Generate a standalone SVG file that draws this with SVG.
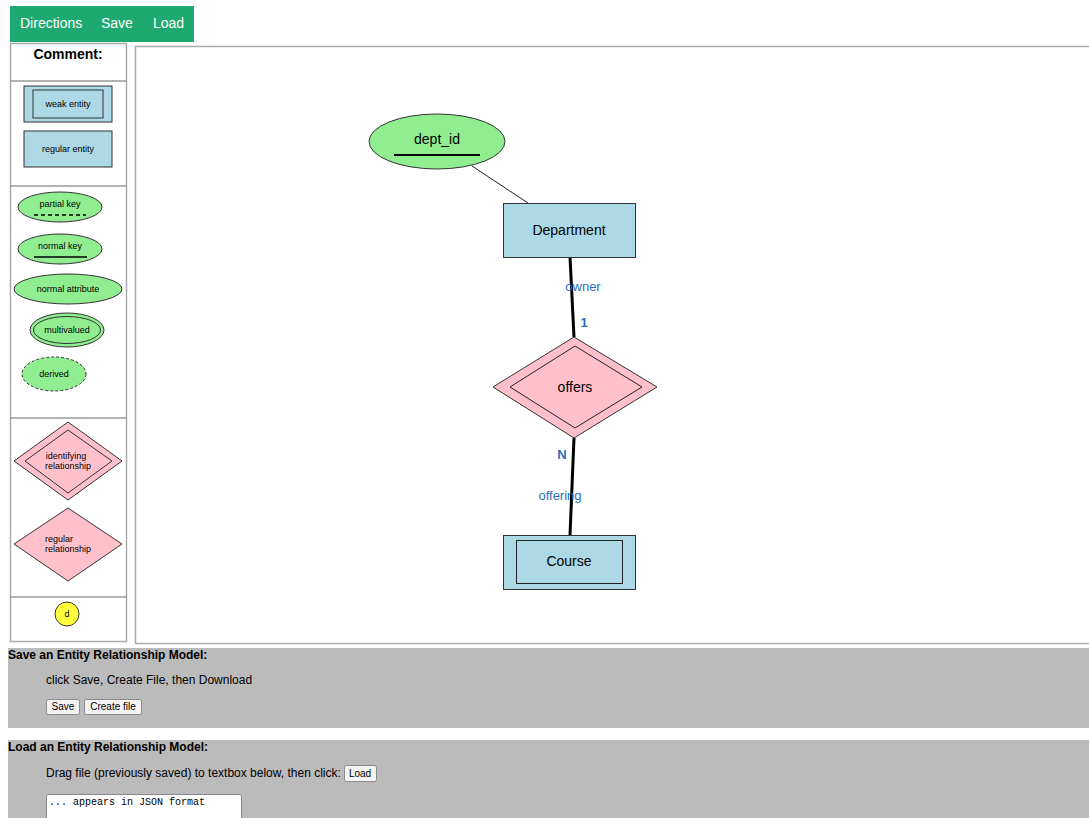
<svg xmlns="http://www.w3.org/2000/svg" width="1089" height="818" viewBox="0 0 1089 818">
<style>
  text { font-family: "Liberation Sans", Arial, sans-serif; fill: #000; }
  text.mono { font-family: "Liberation Mono", "Courier New", monospace; font-size: 10px; }
  .menu { fill: #fff; font-size: 14px; }
  .pal { font-size: 9px; text-anchor: middle; }
  .lbl { font-size: 14px; text-anchor: middle; }
  .role { font-size: 13px; fill: #2a6fbf; text-anchor: middle; }
  .card { font-size: 13px; fill: #2a6fbf; font-weight: bold; text-anchor: middle; }
  .ent { fill: #add8e6; stroke: #333; stroke-width: 1; }
  .attr { fill: #90ee90; stroke: #333; stroke-width: 1; }
  .rel { fill: #ffc0cb; stroke: #333; stroke-width: 1; }
  .panel { fill: #bbbbbb; }
  .btn { fill: #f4f4f4; stroke: #8a8a8a; stroke-width: 1; }
  .btxt { font-size: 10px; text-anchor: middle; }
  .sep { stroke: #999; stroke-width: 1.5; }
</style>
<rect width="1089" height="818" fill="#fff"/>

<!-- top menu bar -->
<g id="menu">
  <rect x="10" y="6" width="184" height="36" fill="#1ea971"/>
  <text class="menu" x="20" y="28">Directions</text>
  <text class="menu" x="101" y="28">Save</text>
  <text class="menu" x="153" y="28">Load</text>
</g>

<!-- shape palette -->
<g id="palette">
  <rect x="10.5" y="43.5" width="116" height="598" fill="#fff" stroke="#aaa" stroke-width="1.5"/>
  <line class="sep" x1="10" y1="81" x2="127" y2="81"/>
  <line class="sep" x1="10" y1="186" x2="127" y2="186"/>
  <line class="sep" x1="10" y1="418" x2="127" y2="418"/>
  <line class="sep" x1="10" y1="597" x2="127" y2="597"/>
  <text x="68" y="59" font-size="14" font-weight="bold" text-anchor="middle">Comment:</text>

  <g id="pal-weak-entity">
    <rect class="ent" x="24" y="86" width="88" height="36"/>
    <rect x="33" y="90" width="70" height="28" fill="none" stroke="#333"/>
    <text class="pal" x="68" y="107">weak entity</text>
  </g>
  <g id="pal-regular-entity">
    <rect class="ent" x="24" y="131" width="88" height="36"/>
    <text class="pal" x="68" y="152">regular entity</text>
  </g>
  <g id="pal-partial-key">
    <ellipse class="attr" cx="60" cy="207" rx="42" ry="15"/>
    <text class="pal" x="60" y="207">partial key</text>
    <line x1="34" y1="215" x2="86" y2="215" stroke="#000" stroke-width="1.3" stroke-dasharray="4,3"/>
  </g>
  <g id="pal-normal-key">
    <ellipse class="attr" cx="60" cy="249" rx="42" ry="15"/>
    <text class="pal" x="60" y="249">normal key</text>
    <line x1="34" y1="257" x2="87" y2="257" stroke="#000" stroke-width="1.5"/>
  </g>
  <g id="pal-normal-attribute">
    <ellipse class="attr" cx="68" cy="289" rx="54" ry="15"/>
    <text class="pal" x="68" y="292">normal attribute</text>
  </g>
  <g id="pal-multivalued">
    <ellipse class="attr" cx="67" cy="330" rx="37" ry="17"/>
    <ellipse cx="67" cy="330" rx="33.5" ry="13.5" fill="none" stroke="#333"/>
    <text class="pal" x="67" y="333">multivalued</text>
  </g>
  <g id="pal-derived">
    <ellipse class="attr" cx="54" cy="374" rx="32" ry="17" stroke-dasharray="3,2"/>
    <text class="pal" x="54" y="377">derived</text>
  </g>
  <g id="pal-identifying-relationship">
    <polygon class="rel" points="68,422 122,461 68,500 14,461"/>
    <polygon points="68,430 112,461 68,493 25,461" fill="none" stroke="#333"/>
    <text class="pal" x="66" y="459">identifying</text>
    <text class="pal" x="68" y="469">relationship</text>
  </g>
  <g id="pal-regular-relationship">
    <polygon class="rel" points="68,508 122,544 68,581 14,544"/>
    <text class="pal" x="59" y="542">regular</text>
    <text class="pal" x="68" y="552">relationship</text>
  </g>
  <g id="pal-disjoint">
    <circle cx="67" cy="614" r="12" fill="#ffff3c" stroke="#333"/>
    <text class="pal" x="67" y="617">d</text>
  </g>
</g>

<!-- drawing area -->
<rect x="135.5" y="46.5" width="960" height="597" fill="#fff" stroke="#aaa" stroke-width="1.5"/>

<g id="connectors">
  <line x1="472" y1="166" x2="528" y2="203" stroke="#222" stroke-width="1"/>
  <line x1="570" y1="257" x2="574" y2="337" stroke="#000" stroke-width="3"/>
  <line x1="574" y1="438" x2="570" y2="535" stroke="#000" stroke-width="3"/>
  <text class="role" x="583" y="291">owner</text>
  <text class="card" x="584" y="327">1</text>
  <text class="card" x="562" y="459">N</text>
  <text class="role" x="560" y="500">offering</text>
</g>

<g id="dept_id">
  <ellipse class="attr" cx="437" cy="141.5" rx="68" ry="27.5"/>
  <text class="lbl" x="437" y="144">dept_id</text>
  <line x1="394" y1="155" x2="480" y2="155" stroke="#000" stroke-width="2"/>
</g>

<g id="Department">
  <rect class="ent" x="503.5" y="203.5" width="132" height="54"/>
  <text class="lbl" x="569" y="235">Department</text>
</g>

<g id="offers">
  <polygon class="rel" points="574,337 657,387 574,438 493,387"/>
  <polygon points="575,346 642,387 575,428 510,387" fill="none" stroke="#222"/>
  <text class="lbl" x="575" y="392">offers</text>
</g>

<g id="Course">
  <rect class="ent" x="503.5" y="535.5" width="132" height="54"/>
  <rect x="516.5" y="540.5" width="106" height="43" fill="none" stroke="#222"/>
  <text class="lbl" x="569" y="566">Course</text>
</g>

<!-- save / load panels -->
<g id="save-panel">
  <rect class="panel" x="8" y="648" width="1081" height="80"/>
  <text x="8" y="659" font-size="12" font-weight="bold">Save an Entity Relationship Model:</text>
  <text x="46" y="684" font-size="12">click Save, Create File, then Download</text>
  <rect class="btn" x="46.5" y="699.5" width="33" height="15" rx="2"/>
  <text class="btxt" x="63" y="710">Save</text>
  <rect class="btn" x="84.5" y="699.5" width="57" height="15" rx="2"/>
  <text class="btxt" x="113" y="710">Create file</text>
</g>
<g id="load-panel">
  <rect class="panel" x="8" y="740" width="1081" height="78"/>
  <text x="8" y="751" font-size="12" font-weight="bold">Load an Entity Relationship Model:</text>
  <text x="46" y="777" font-size="12">Drag file (previously saved) to textbox below, then click:</text>
  <rect class="btn" x="344.5" y="765.5" width="32" height="16" rx="2"/>
  <text class="btxt" x="360" y="777">Load</text>
  <rect x="46.5" y="794.5" width="195" height="30" fill="#fff" stroke="#888" rx="2"/>
  <text class="mono" x="49" y="805">... appears in JSON format</text>
</g>
</svg>
